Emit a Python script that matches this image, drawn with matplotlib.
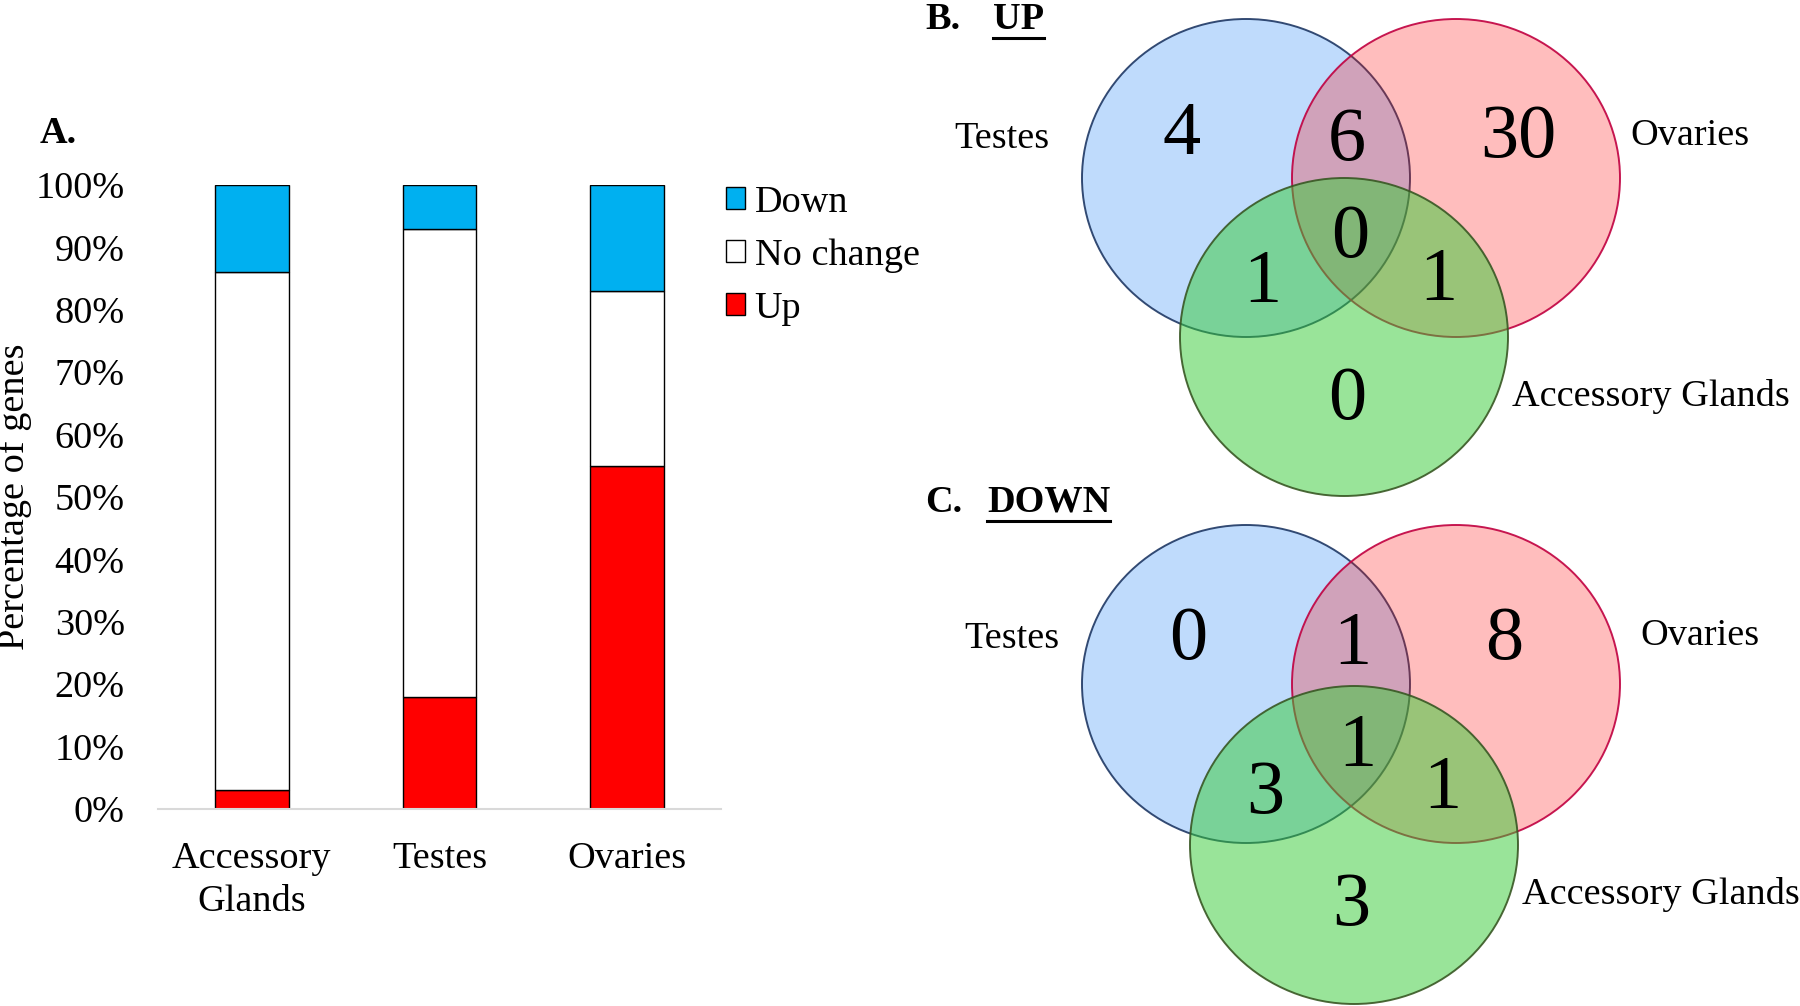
import matplotlib
matplotlib.use('Agg')
import matplotlib.pyplot as plt
from matplotlib.patches import Ellipse, Patch
from matplotlib.lines import Line2D

plt.rcParams['font.family'] = ['Liberation Serif', 'DejaVu Serif']

# data
tissues = ['Accessory\nGlands', 'Testes', 'Ovaries']
pct_up = [3, 18, 55]
pct_nochange = [83, 75, 28]
pct_down = [14, 7, 17]
yticks = [0, 10, 20, 30, 40, 50, 60, 70, 80, 90, 100]

# venn region order: T only, T&O, O only, T&O&A, T&A, O&A, A only
venn_up = [4, 6, 30, 0, 1, 1, 0]
venn_down = [0, 1, 8, 1, 3, 1, 3]
set_names = ['Testes', 'Ovaries', 'Accessory Glands']

W, H = 1800, 1006
fig = plt.figure(figsize=(W / 100, H / 100), dpi=100)

# ---- A. stacked bars
ax = fig.add_axes([158 / W, 1 - 809 / H, 563 / W, 624 / H])
x = range(len(tissues))
bw = 0.394
ax.bar(x, pct_up, bw, color='#ff0000', edgecolor='black', lw=1.0, label='Up')
ax.bar(x, pct_nochange, bw, bottom=pct_up, color='white', edgecolor='black', lw=1.0,
       label='No change')
bot = [u + n for u, n in zip(pct_up, pct_nochange)]
ax.bar(x, pct_down, bw, bottom=bot, color='#00b0f0', edgecolor='black', lw=1.0,
       label='Down')
ax.set_xlim(-0.5, 2.5)
ax.set_ylim(0, 100)
ax.set_yticks(yticks)
ax.set_yticklabels([f'{v}%' for v in yticks], fontsize=27.5)
ax.set_xticks(list(x))
ax.set_xticklabels(tissues, fontsize=27.5, linespacing=1.3)
ax.tick_params(axis='y', length=0, pad=24)
ax.tick_params(axis='x', length=0, pad=23.5)
for s in ['top', 'right', 'left']:
    ax.spines[s].set_visible(False)
ax.spines['bottom'].set_color('#d9d9d9')
ax.spines['bottom'].set_linewidth(1.5)
ax.set_ylabel('Percentage of genes', fontsize=27.5)
ax.yaxis.set_label_coords(-0.224, 0.5)

h, l = ax.get_legend_handles_labels()
ax.legend(h[::-1], l[::-1], loc='upper left', bbox_to_anchor=(726 / W, 1 - 185 / H),
          bbox_transform=fig.transFigure, frameon=False, fontsize=27.5,
          handlelength=0.5, handleheight=0.5, handletextpad=0.25, labelspacing=0.49,
          borderaxespad=0, borderpad=0)

fig.text(40 / W, 1 - 133.5 / H, 'A.', fontsize=27.5, fontweight='bold', va='center')

# ---- B/C venn diagrams, drawn in figure pixel coordinates
av = fig.add_axes([0, 0, 1, 1])
av.set_xlim(0, W)
av.set_ylim(H, 0)
av.axis('off')

fills = [(72 / 255, 152 / 255, 249 / 255, 0.35),
         (1.0, 11 / 255, 11 / 255, 0.27),
         (53 / 255, 203 / 255, 53 / 255, 0.5)]
edges = ['#1f3864', '#c00040', '#385723']

panels = [
    dict(counts=venn_up, title='B.', sub='UP', ty=19,
         centers=[(1246, 178), (1456, 178), (1344, 337)],
         nums=[(-64, -46), (101, -40), (272, -43), (104, 57), (16, 102), (192, 101), (101, 219)],
         labels=[(1002, 139), (1690, 136), (1651, 396)]),
    dict(counts=venn_down, title='C.', sub='DOWN', ty=502,
         centers=[(1246, 684), (1456, 684), (1354, 845)],
         nums=[(-58, -47), (106, -41), (258, -46), (111, 60), (19, 107), (196, 103), (105, 219)],
         labels=[(1012, 639), (1700, 636), (1661, 895)]),
]

fig.canvas.draw()
r = fig.canvas.get_renderer()
for p in panels:
    for (cx, cy), fc, ec in zip(p['centers'], fills, edges):
        av.add_patch(Ellipse((cx, cy), 328, 318, facecolor=fc, edgecolor='none'))
        av.add_patch(Ellipse((cx, cy), 328, 318, facecolor='none', edgecolor=ec,
                             lw=1.4, alpha=0.9))
    ox, oy = p['centers'][0]
    for (dx, dy), n in zip(p['nums'], p['counts']):
        av.text(ox + dx, oy + dy + 3, str(n), fontsize=55, ha='center', va='center')
    for (lx, ly), name in zip(p['labels'], set_names):
        av.text(lx, ly, name, fontsize=27.5, ha='center', va='center')
    av.text(925, p['ty'], p['title'], fontsize=27.5, fontweight='bold', va='center')
    t = av.text(993 if p['sub'] == 'UP' else 987, p['ty'], p['sub'], fontsize=27.5,
                fontweight='bold', va='center')
    bb = t.get_window_extent(renderer=r)
    y0 = H - bb.y0 + 1
    av.add_line(Line2D([bb.x0, bb.x1], [y0, y0], color='black', lw=2.2))

fig.savefig('out.png', dpi=100)
